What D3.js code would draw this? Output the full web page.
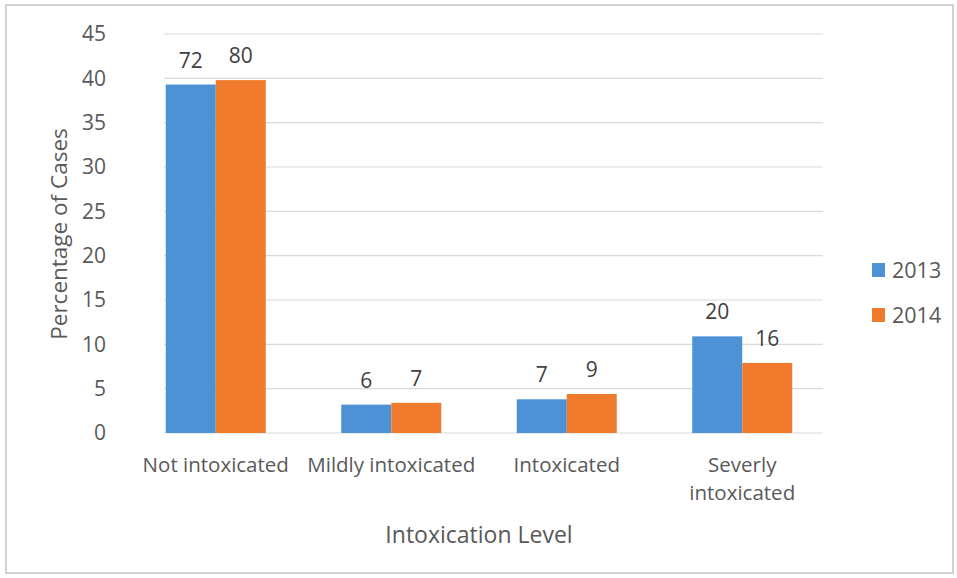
<!DOCTYPE html>
<html>
<head>
<meta charset="utf-8">
<script src="https://cdn.jsdelivr.net/npm/d3@7"></script>
<style>
  html, body { margin: 0; padding: 0; background: #fff; }
  svg { display: block; font-family: "Open Sans", sans-serif; }
</style>
</head>
<body>
<svg id="chart" width="957" height="578"></svg>
<script>
// Intoxication levels along the x axis
const categories = ["Not intoxicated", "Mildly intoxicated", "Intoxicated", "Severly intoxicated"];
const seriesNames = ["2013", "2014"];
// Percentage of cases (bar heights)
const pct2013 = [39.3, 3.2, 3.8, 10.9];
const pct2014 = [39.8, 3.4, 4.4, 7.9];
// Case counts shown above each bar
const count2013 = [72, 6, 7, 20];
const count2014 = [80, 7, 9, 16];
const yTicks = [0, 5, 10, 15, 20, 25, 30, 35, 40, 45];
const colors = ["#4E92D6", "#F07B2C"];

const svg = d3.select("#chart");

// outer chart frame
svg.append("rect")
  .attr("x", 6).attr("y", 5).attr("width", 947).attr("height", 568)
  .attr("fill", "#fff").attr("stroke", "#d2d2d2").attr("stroke-width", 2);

const plot = { left: 128, right: 830, top: 34, bottom: 433 };

const x = d3.scaleBand().domain(categories).range([plot.left, plot.right]).paddingInner(0).paddingOuter(0);
const xs = d3.scaleBand().domain(seriesNames).range([0, x.bandwidth()]).paddingInner(0).paddingOuter(0.755);
const y = d3.scaleLinear().domain([0, 45]).range([plot.bottom, plot.top]);

// horizontal gridlines
svg.append("g")
  .selectAll("line").data(yTicks.filter(d => d > 0)).join("line")
  .attr("x1", 164).attr("x2", 823)
  .attr("y1", d => y(d)).attr("y2", d => y(d))
  .attr("stroke", "#d9d9d9").attr("stroke-width", 1.2);

// y axis tick labels
const yAxis = d3.axisLeft(y).tickValues(yTicks).tickSize(0).tickPadding(0);
const gy = svg.append("g").attr("transform", `translate(106,0)`).call(yAxis);
gy.select(".domain").remove();
gy.selectAll("text").attr("fill", "#595959").attr("font-size", 21)
  .attr("font-family", "'Open Sans', sans-serif");

// baseline
svg.append("line")
  .attr("x1", 164).attr("x2", 823)
  .attr("y1", y(0)).attr("y2", y(0))
  .attr("stroke", "#d9d9d9").attr("stroke-width", 1.2);

const rows = categories.map((c, i) => ({
  cat: c,
  vals: [
    { s: "2013", v: pct2013[i], n: count2013[i] },
    { s: "2014", v: pct2014[i], n: count2014[i] }
  ]
}));

const groups = svg.append("g").selectAll("g").data(rows).join("g")
  .attr("transform", d => `translate(${x(d.cat)},0)`);

groups.selectAll("rect").data(d => d.vals).join("rect")
  .attr("x", d => xs(d.s)).attr("width", xs.bandwidth())
  .attr("y", d => y(d.v)).attr("height", d => y(0) - y(d.v))
  .attr("fill", (d, i) => colors[i]);

groups.selectAll("text.val").data(d => d.vals).join("text")
  .attr("class", "val")
  .attr("x", d => xs(d.s) + xs.bandwidth() / 2)
  .attr("y", d => y(d.v) - 17)
  .attr("text-anchor", "middle")
  .attr("font-size", 21).attr("fill", "#404040")
  .text(d => d.n);

// category labels (wrap the last one onto two lines)
const catLines = { "Severly intoxicated": ["Severly", "intoxicated"] };
const xl = svg.append("g");
categories.forEach(c => {
  const lines = catLines[c] || [c];
  const t = xl.append("text")
    .attr("x", x(c) + x.bandwidth() / 2).attr("y", 472)
    .attr("text-anchor", "middle").attr("font-size", 20.5).attr("fill", "#595959");
  lines.forEach((l, i) => t.append("tspan")
    .attr("x", x(c) + x.bandwidth() / 2).attr("dy", i ? 28 : 0).text(l));
});

// axis titles
svg.append("text")
  .attr("x", 479).attr("y", 543).attr("text-anchor", "middle")
  .attr("font-size", 23).attr("fill", "#595959")
  .text("Intoxication Level");

svg.append("text")
  .attr("transform", "translate(67,234) rotate(-90)")
  .attr("text-anchor", "middle")
  .attr("font-size", 22.5).attr("fill", "#595959")
  .text("Percentage of Cases");

// legend
const legend = svg.append("g").selectAll("g").data(seriesNames).join("g")
  .attr("transform", (d, i) => `translate(872,${263 + i * 45})`);
legend.append("rect").attr("width", 13).attr("height", 14)
  .attr("fill", (d, i) => colors[i]);
legend.append("text").attr("x", 20).attr("y", 15)
  .attr("font-size", 21.5).attr("fill", "#595959").text(d => d);
</script>
</body>
</html>
